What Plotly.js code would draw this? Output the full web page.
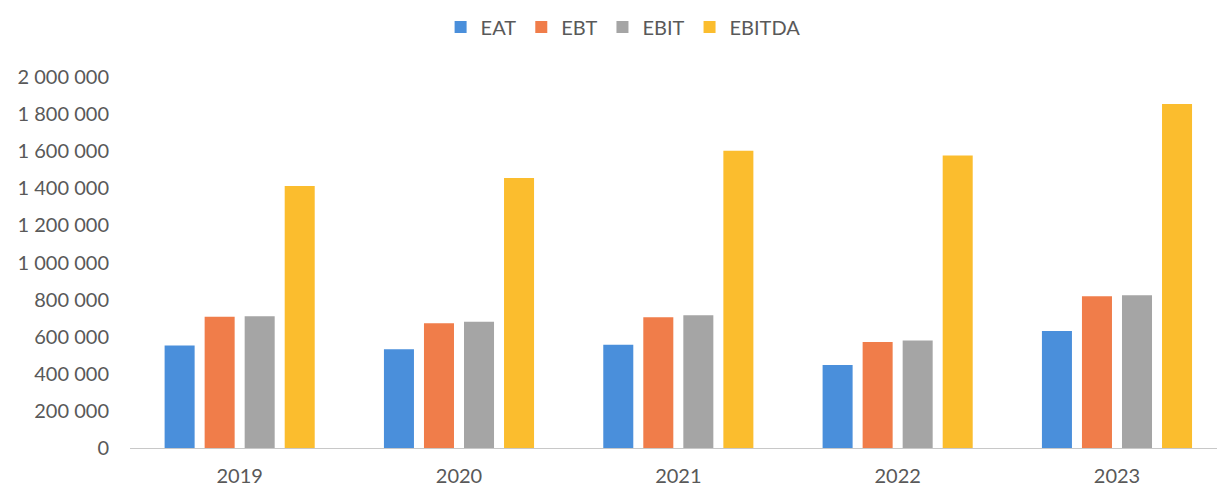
<!DOCTYPE html>
<html>
<head>
<meta charset="utf-8">
<script src="https://cdn.plot.ly/plotly-3.0.1.min.js"></script>
<style>html,body{margin:0;padding:0;background:#fff;}#chart{width:1217px;height:489px;}</style>
</head>
<body>
<div id="chart"></div>
<script>
const years = ['2019', '2020', '2021', '2022', '2023'];
const seriesNames = ['EAT', 'EBT', 'EBIT', 'EBITDA'];
const eat = [552000, 533000, 556000, 447000, 631000];
const ebt = [708000, 673000, 705000, 572000, 818000];
const ebit = [710000, 680000, 716000, 579000, 823000];
const ebitda = [1412000, 1456000, 1602000, 1577000, 1855000];
const tickValues = [0, 200000, 400000, 600000, 800000, 1000000, 1200000, 1400000, 1600000, 1800000, 2000000];
const colors = ['#4a8fdb', '#f07d4a', '#a5a5a5', '#fbbd2e'];

const values = [eat, ebt, ebit, ebitda];
const traces = seriesNames.map((name, i) => ({
  type: 'bar',
  name: name,
  x: years,
  y: values[i],
  marker: {color: colors[i]}
}));

const layout = {
  width: 1217,
  height: 489,
  margin: {l: 130, r: 0, t: 77, b: 41},
  paper_bgcolor: '#ffffff',
  plot_bgcolor: '#ffffff',
  font: {family: 'Lato, "Liberation Sans", sans-serif', size: 20, color: '#595959'},
  separators: ', ',
  barmode: 'group',
  bargap: 0.27,
  bargroupgap: 0.25,
  showlegend: true,
  legend: {
    orientation: 'h',
    xref: 'container', yref: 'container',
    x: 0.512, xanchor: 'center',
    y: 0.945, yanchor: 'middle',
    font: {size: 20, color: '#595959'},
    itemwidth: 30,
    tracegroupgap: 0
  },
  xaxis: {
    type: 'category',
    range: [-0.5, 4.456],
    showline: true,
    linecolor: '#c8c8c8',
    linewidth: 1,
    ticks: '',
    showgrid: false,
    ticklabelstandoff: 10,
    tickfont: {size: 20, color: '#595959'}
  },
  yaxis: {
    range: [0, 2000000],
    tickvals: tickValues,
    tickformat: ',d',
    showgrid: false,
    zeroline: false,
    showline: false,
    ticks: '',
    ticklabelstandoff: 20,
    tickfont: {size: 20, color: '#595959'}
  }
};

Plotly.newPlot('chart', traces, layout, {displayModeBar: false, staticPlot: true});
</script>
</body>
</html>
